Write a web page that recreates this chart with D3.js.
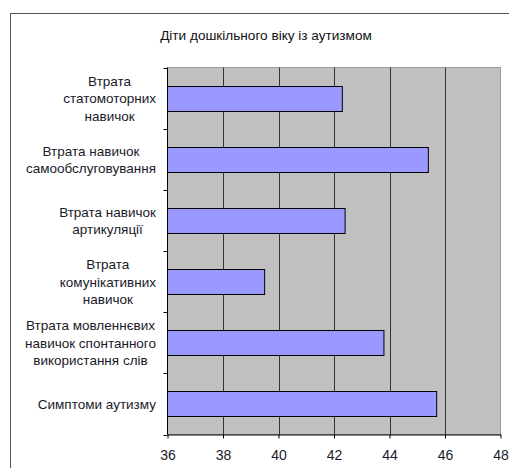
<!DOCTYPE html>
<html>
<head>
<meta charset="utf-8">
<script src="https://cdn.jsdelivr.net/npm/d3@7"></script>
<style>
  html, body { margin: 0; padding: 0; background: #fff; }
  svg { display: block; font-family: "Liberation Sans", Arial, sans-serif; }
</style>
</head>
<body>
<svg id="chart" width="509" height="468"></svg>
<script>
const title = "Діти дошкільного віку із аутизмом";
const categories = [
  ["Втрата", "статомоторних", "навичок"],
  ["Втрата навичок", "самообслуговування"],
  ["Втрата навичок", "артикуляції"],
  ["Втрата", "комунікативних", "навичок"],
  ["Втрата мовленнєвих", "навичок спонтанного", "використання слів"],
  ["Симптоми аутизму"]
];
const values = [42.3, 45.4, 42.4, 39.5, 43.8, 45.7];
const xTicks = [36, 38, 40, 42, 44, 46, 48];

(function () {
const svg = d3.select("#chart");
const pLeft = 167.5, pRight = 500.5, pTop = 67.5, pBottom = 434.5;

// outer frame (partially cut by the window)
svg.append("rect")
  .attr("x", 10.5).attr("y", 13.5)
  .attr("width", 520).attr("height", 480)
  .attr("fill", "#fff").attr("stroke", "#555").attr("stroke-width", 1);

svg.append("text")
  .attr("x", 266).attr("y", 40)
  .attr("text-anchor", "middle")
  .attr("font-size", 13.6).attr("fill", "#111")
  .text(title);

const x = d3.scaleLinear().domain([36, 48]).range([pLeft, pRight]);
const ids = categories.map((c, i) => i);
const y = d3.scaleBand().domain(ids).range([pTop, pBottom]).paddingInner(0.59).paddingOuter(0.295);
const yb = d3.scaleBand().domain(ids).range([pTop, pBottom]);

// plot area
svg.append("rect")
  .attr("x", pLeft).attr("y", pTop)
  .attr("width", pRight - pLeft).attr("height", pBottom - pTop)
  .attr("fill", "#C0C0C0").attr("stroke", "#999").attr("stroke-width", 1);

// gridlines
svg.append("g").selectAll("line")
  .data(xTicks.filter(t => t > 36 && t < 48))
  .join("line")
  .attr("x1", d => Math.round(x(d)) + 0.5).attr("x2", d => Math.round(x(d)) + 0.5)
  .attr("y1", pTop).attr("y2", pBottom)
  .attr("stroke", "#333").attr("stroke-width", 1);

// bars
svg.append("g").selectAll("rect")
  .data(values)
  .join("rect")
  .attr("x", x(36))
  .attr("y", (d, i) => Math.round(y(i)) + 0.5)
  .attr("width", d => x(d) - x(36))
  .attr("height", Math.round(y.bandwidth()))
  .attr("fill", "#9999FF").attr("stroke", "#000").attr("stroke-width", 1);

// x axis
const xAxis = svg.append("g")
  .attr("transform", `translate(0,${pBottom})`)
  .call(d3.axisBottom(x).tickValues(xTicks).tickSize(4).tickSizeOuter(0).tickPadding(12));
xAxis.select(".domain").attr("stroke", "#000");
xAxis.selectAll(".tick line").attr("stroke", "#000");
xAxis.selectAll(".tick text")
  .attr("font-size", 14).attr("fill", "#1a1a2a")
  .attr("font-family", "Liberation Sans, Arial, sans-serif");

// y axis line and ticks at band boundaries
const yAxisG = svg.append("g");
yAxisG.append("line")
  .attr("x1", pLeft).attr("x2", pLeft).attr("y1", pTop).attr("y2", pBottom)
  .attr("stroke", "#000");
const bounds = ids.map(i => yb(i)).concat([pBottom]);
yAxisG.selectAll("line.t").data(bounds).join("line")
  .attr("class", "t")
  .attr("x1", pLeft - 4).attr("x2", pLeft)
  .attr("y1", d => Math.round(d) + 0.5).attr("y2", d => Math.round(d) + 0.5)
  .attr("stroke", "#000");

// category labels: wrapped blocks right-aligned, lines centered
const lineH = 17.5;
const labelRight = 156;
categories.forEach((lines, i) => {
  const cy = yb(i) + yb.bandwidth() / 2;
  const g = svg.append("g");
  const texts = lines.map((ln, k) =>
    g.append("text")
      .attr("font-size", 13.5).attr("fill", "#1a1a2a")
      .attr("text-anchor", "middle")
      .attr("y", cy + (k - (lines.length - 1) / 2) * lineH + 5)
      .text(ln));
  const w = d3.max(texts, t => t.node().getComputedTextLength());
  texts.forEach(t => t.attr("x", labelRight - w / 2));
});
})();
</script>
</body>
</html>
